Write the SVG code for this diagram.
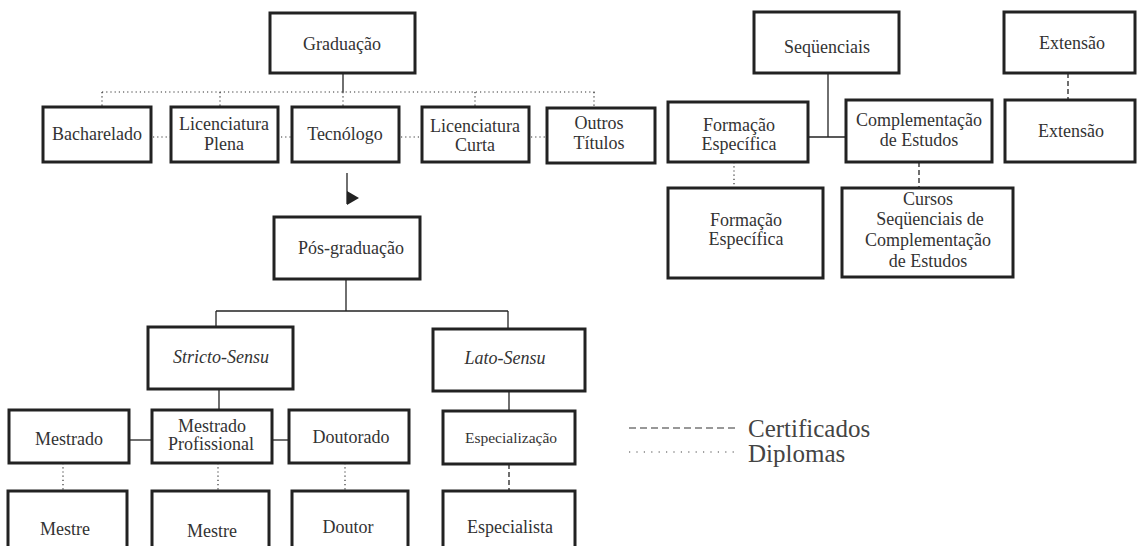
<svg xmlns="http://www.w3.org/2000/svg" width="1139" height="546" viewBox="0 0 1139 546">
<style>
.box{fill:#fff;stroke:#222;stroke-width:3}
.t{font-size:18px;fill:#333;text-anchor:middle}
.it{font-style:italic}
.s{stroke:#222;stroke-width:1.3;fill:none}
.d{stroke:#333;stroke-width:1.2;fill:none;stroke-dasharray:1.2 3}
.k{stroke:#222;stroke-width:1.3;fill:none;stroke-dasharray:5 3}
.lg{font-size:25px;fill:#444}
</style>
<rect width="1139" height="546" fill="#fff"/>
<g id="connectors">
<line class="s" x1="343" y1="73" x2="343" y2="92"/>
<line class="d" x1="102" y1="92" x2="595" y2="92"/>
<line class="d" x1="102" y1="92" x2="102" y2="107"/>
<line class="d" x1="220" y1="92" x2="220" y2="107"/>
<line class="d" x1="343" y1="92" x2="343" y2="107"/>
<line class="d" x1="475" y1="92" x2="475" y2="107"/>
<line class="d" x1="594" y1="92" x2="594" y2="107"/>
<line class="d" x1="153" y1="137" x2="171" y2="137"/>
<line class="d" x1="281" y1="137" x2="292" y2="137"/>
<line class="d" x1="401" y1="137" x2="422" y2="137"/>
<line class="d" x1="531" y1="137" x2="547" y2="137"/>
<line class="s" x1="347" y1="173" x2="347" y2="204"/>
<polygon points="347,191 359,198 347,205" fill="#222"/>
<line class="s" x1="828" y1="73" x2="828" y2="137"/>
<line class="s" x1="808" y1="137" x2="846" y2="137"/>
<line class="k" x1="1068" y1="73" x2="1068" y2="100"/>
<line class="d" x1="734" y1="162" x2="734" y2="188"/>
<line class="k" x1="919" y1="162" x2="919" y2="188"/>
<line class="s" x1="346" y1="279" x2="346" y2="311"/>
<line class="s" x1="216" y1="311" x2="508" y2="311"/>
<line class="s" x1="216" y1="311" x2="216" y2="327"/>
<line class="s" x1="508" y1="311" x2="508" y2="329"/>
<line class="s" x1="219" y1="389" x2="219" y2="410"/>
<line class="s" x1="129" y1="440" x2="152" y2="440"/>
<line class="s" x1="272" y1="440" x2="289" y2="440"/>
<line class="s" x1="509" y1="391" x2="509" y2="411"/>
<line class="d" x1="63" y1="463" x2="63" y2="491"/>
<line class="d" x1="218" y1="463" x2="218" y2="491"/>
<line class="d" x1="345" y1="463" x2="345" y2="491"/>
<line class="k" x1="509" y1="464" x2="509" y2="491"/>
</g>
<g id="nodes" font-family="Liberation Serif, DejaVu Serif, serif">
<g id="graduacao"><rect class="box" x="270" y="13" width="145" height="60"/><text class="t" x="342" y="50">Graduação</text></g>
<g id="bacharelado"><rect class="box" x="43" y="107" width="108" height="55"/><text class="t" x="97" y="140">Bacharelado</text></g>
<g id="lic-plena"><rect class="box" x="171" y="107" width="107" height="55"/><text class="t" x="224" y="130">Licenciatura</text><text class="t" x="224" y="150">Plena</text></g>
<g id="tecnologo"><rect class="box" x="292" y="107" width="107" height="55"/><text class="t" x="345" y="140">Tecnólogo</text></g>
<g id="lic-curta"><rect class="box" x="422" y="107" width="107" height="55"/><text class="t" x="475" y="132">Licenciatura</text><text class="t" x="475" y="151">Curta</text></g>
<g id="outros"><rect class="box" x="547" y="108" width="108" height="55"/><text class="t" x="599" y="129">Outros</text><text class="t" x="599" y="149">Títulos</text></g>
<g id="sequenciais"><rect class="box" x="754" y="12" width="145" height="61"/><text class="t" x="827" y="53">Seqüenciais</text></g>
<g id="extensao"><rect class="box" x="1004" y="12" width="131" height="61"/><text class="t" x="1072" y="49">Extensão</text></g>
<g id="formacao"><rect class="box" x="668" y="102" width="140" height="60"/><text class="t" x="739" y="131">Formação</text><text class="t" x="739" y="150">Específica</text></g>
<g id="complementacao"><rect class="box" x="846" y="100" width="146" height="62"/><text class="t" x="919" y="126">Complementação</text><text class="t" x="919" y="146">de Estudos</text></g>
<g id="extensao2"><rect class="box" x="1005" y="100" width="130" height="62"/><text class="t" x="1071" y="137">Extensão</text></g>
<g id="formacao2"><rect class="box" x="668" y="188" width="155" height="90"/><text class="t" x="746" y="226">Formação</text><text class="t" x="746" y="245">Específica</text></g>
<g id="cursos"><rect class="box" x="842" y="188" width="171" height="89"/><text class="t" x="928" y="205">Cursos</text><text class="t" x="930" y="225">Seqüenciais de</text><text class="t" x="928" y="246">Complementação</text><text class="t" x="928" y="267">de Estudos</text></g>
<g id="pos"><rect class="box" x="274" y="217" width="146" height="62"/><text class="t" x="351" y="254">Pós-graduação</text></g>
<g id="stricto"><rect class="box" x="148" y="327" width="145" height="62"/><text class="t it" x="221" y="363">Stricto-Sensu</text></g>
<g id="lato"><rect class="box" x="433" y="329" width="152" height="62"/><text class="t it" x="505" y="364">Lato-Sensu</text></g>
<g id="mestrado"><rect class="box" x="9" y="410" width="120" height="53"/><text class="t" x="69" y="445">Mestrado</text></g>
<g id="mestrado-prof"><rect class="box" x="152" y="410" width="120" height="53"/><text class="t" x="212" y="432">Mestrado</text><text class="t" x="211" y="450">Profissional</text></g>
<g id="doutorado"><rect class="box" x="289" y="410" width="120" height="53"/><text class="t" x="351" y="443">Doutorado</text></g>
<g id="especializacao"><rect class="box" x="443" y="411" width="132" height="53"/><text class="t" x="511" y="443" style="font-size:15.5px">Especialização</text></g>
<g id="mestre1"><rect class="box" x="8" y="491" width="119" height="70"/><text class="t" x="65" y="535">Mestre</text></g>
<g id="mestre2"><rect class="box" x="152" y="491" width="117" height="70"/><text class="t" x="212" y="537">Mestre</text></g>
<g id="doutor"><rect class="box" x="292" y="491" width="116" height="70"/><text class="t" x="348" y="533">Doutor</text></g>
<g id="especialista"><rect class="box" x="443" y="491" width="132" height="70"/><text class="t" x="510" y="533">Especialista</text></g>
</g>
<g id="legend" font-family="Liberation Serif, DejaVu Serif, serif">
<line stroke="#333" stroke-width="1.2" stroke-dasharray="7 4" x1="629" y1="428" x2="737" y2="428"/>
<line stroke="#444" stroke-width="1.2" stroke-dasharray="1.2 6.2" x1="629" y1="452" x2="737" y2="452"/>
<text class="lg" x="748" y="437">Certificados</text>
<text class="lg" x="748" y="462">Diplomas</text>
</g>
</svg>
